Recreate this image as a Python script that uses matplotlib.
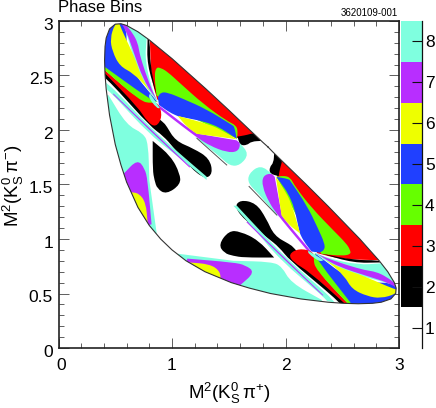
import matplotlib
matplotlib.use("Agg")
import matplotlib.pyplot as plt
from matplotlib.patches import PathPatch
from matplotlib.path import Path
from matplotlib.ticker import MultipleLocator
from matplotlib.transforms import ScaledTranslation

plt.rcParams["font.family"] = ["Liberation Sans", "DejaVu Sans"]
plt.rcParams["mathtext.fontset"] = "custom"
plt.rcParams["mathtext.rm"] = "Liberation Sans"
plt.rcParams["mathtext.it"] = "Liberation Sans:italic"

BIN_LABELS = [1, 2, 3, 4, 5, 6, 7, 8]
BIN_COLORS = ["#ffffff", "#000000", "#ff0000", "#66ff00",
              "#2040ff", "#eeff00", "#b82eff", "#7fffdf"]
X_TICKS = [0, 1, 2, 3]
Y_TICKS = [0, 0.5, 1, 1.5, 2, 2.5, 3]
Y_TICK_LABELS = ["0", "0.5", "1", "1.5", "2", "2.5", "3"]

# Only the half above the diagonal is listed, the plot is symmetric in x <-> y
OUTLINE = [(1.845, 1.845), (1.8, 1.887), (1.7, 1.985), (1.5, 2.183), (1.3, 2.376),
           (1.0, 2.655), (0.8, 2.826), (0.7, 2.901), (0.6, 2.959), (0.55, 2.975),
           (0.5, 2.971), (0.45, 2.928), (0.42, 2.844), (0.41, 2.766), (0.406, 2.64),
           (0.41, 2.51), (0.42, 2.376), (0.45, 2.135), (0.5, 1.868), (0.55, 1.68),
           (0.6, 1.522), (0.7, 1.29), (0.8, 1.124), (0.9, 1.0), (0.95, 0.95)]

# a point listed twice stays a sharp corner, the others get rounded off
BLUE_LEFT = [(0.38, 2.58), (0.38, 2.58), (0.38, 3.05), (0.60, 3.05), (0.60, 2.6),
             (0.87, 2.26), (0.87, 2.26), (0.777, 2.275)]
CYAN_TOP = [(0.54, 3.05), (0.62, 3.05), (0.80, 2.9), (0.777, 2.841), (0.777, 2.841),
            (0.762, 2.642), (0.821, 2.382), (0.879, 2.245), (0.879, 2.245), (0.70, 2.5),
            (0.60, 2.9)]
PURPLE_TOP = [(0.53, 3.02), (0.53, 3.02), (0.586, 2.975), (0.655, 2.887), (0.70, 2.795),
              (0.713, 2.703), (0.762, 2.535), (0.835, 2.336), (0.87, 2.27), (0.87, 2.27),
              (0.75, 2.45), (0.65, 2.75), (0.60, 2.90)]
YELLOW_TOP = [(0.53, 2.99), (0.53, 2.99), (0.565, 2.90), (0.62, 2.78), (0.68, 2.64),
              (0.73, 2.49), (0.806, 2.35), (0.85, 2.28), (0.85, 2.28), (0.79, 2.38),
              (0.66, 2.52), (0.54, 2.585), (0.475, 2.72), (0.455, 2.84), (0.495, 2.97)]
RED_UPPER = [(0.80, 2.86), (0.80, 2.86), (1.80, 1.96), (1.80, 1.96), (1.62, 1.92),
             (1.56, 1.93), (1.56, 1.93), (0.87, 2.28), (0.87, 2.28), (0.815, 2.48),
             (0.806, 2.80), (0.806, 2.80)]
GREEN_UPPER = [(0.862, 2.32), (0.862, 2.32), (0.845, 2.50), (0.86, 2.575), (0.90, 2.57),
               (0.96, 2.535), (1.07, 2.43), (1.28, 2.235), (1.48, 2.085), (1.57, 2.04),
               (1.58, 1.97), (1.57, 1.92), (1.57, 1.92), (1.0, 2.2)]
BLUE_RIGHT = [(0.875, 2.30), (0.875, 2.30), (0.90, 2.345), (0.96, 2.345), (1.10, 2.285),
              (1.305, 2.19), (1.53, 2.045), (1.55, 2.03), (1.57, 1.92), (1.57, 1.92),
              (1.364, 2.061), (1.056, 2.125), (1.056, 2.125), (0.98, 2.16), (0.885, 2.23),
              (0.885, 2.23)]
YELLOW_RIGHT = [(1.05, 2.13), (1.05, 2.13), (1.335, 2.05), (1.45, 1.99), (1.57, 1.915),
                (1.57, 1.915), (1.217, 1.965), (1.217, 1.965), (1.129, 2.03)]
CYAN_RIGHT = [(1.2, 1.94), (1.2, 1.94), (1.335, 1.87), (1.482, 1.82), (1.57, 1.83),
              (1.593, 1.885), (1.593, 1.885), (1.68, 1.78), (1.60, 1.675), (1.51, 1.67),
              (1.423, 1.755), (1.22, 1.923), (1.22, 1.923)]
PURPLE_RIGHT = [(0.875, 2.235), (0.875, 2.235), (1.012, 2.125), (1.129, 2.03),
                (1.217, 1.968), (1.217, 1.968), (1.57, 1.905), (1.57, 1.905), (1.605, 1.875),
                (1.58, 1.80), (1.482, 1.795), (1.335, 1.855), (1.23, 1.925), (1.23, 1.925),
                (1.10, 2.025), (0.89, 2.195), (0.89, 2.195)]
BLACK_NOTCH = [(1.576, 1.94), (1.576, 1.94), (1.60, 1.86), (1.66, 1.86), (1.70, 1.895),
               (1.79, 1.90), (1.79, 1.90), (1.73, 1.975), (1.66, 1.955), (1.61, 1.945)]
BLACK_STRIPE = [(0.785, 2.84), (0.785, 2.84), (0.806, 2.82), (0.806, 2.60), (0.865, 2.32),
                (0.865, 2.32), (0.78, 2.60)]
BLACK_BAND = [(0.38, 2.57), (0.38, 2.57), (0.41, 2.545), (0.71, 2.265), (0.806, 2.17),
              (0.924, 2.07), (0.95, 2.04), (1.03, 1.90), (1.19, 1.83), (1.33, 1.74),
              (1.36, 1.60), (1.29, 1.55), (1.16, 1.655), (1.012, 1.84), (0.924, 1.945),
              (0.806, 2.035), (0.512, 2.375), (0.41, 2.48), (0.38, 2.50), (0.38, 2.50)]
RED_BLOB = [(0.40, 2.555), (0.40, 2.555), (0.71, 2.28), (0.80, 2.27), (0.885, 2.245),
            (0.915, 2.12), (0.86, 2.025), (0.785, 2.07), (0.70, 2.21), (0.40, 2.53),
            (0.40, 2.53)]
GREEN_THIN = [(0.40, 2.585), (0.40, 2.585), (0.80, 2.285), (0.87, 2.26), (0.87, 2.26),
              (0.82, 2.245), (0.72, 2.265), (0.40, 2.555), (0.40, 2.555)]
CENTER_CYAN = [(0.806, 2.336), (0.806, 2.336), (0.894, 2.2), (0.894, 2.2), (0.865, 2.2),
               (0.791, 2.3)]
CYAN_THIN = [(0.418, 2.434), (0.418, 2.434), (0.512, 2.352), (0.806, 2.024), (1.10, 1.755),
             (1.305, 1.572), (1.305, 1.572), (1.305, 1.541), (1.305, 1.541), (1.10, 1.719),
             (0.806, 1.954), (0.483, 2.321), (0.43, 2.367), (0.43, 2.367)]
PURPLE_THIN = [(0.483, 2.336), (0.483, 2.336), (0.806, 2.012), (1.159, 1.664), (1.159, 1.664),
               (1.155, 1.655), (1.155, 1.655), (0.806, 1.995), (0.483, 2.325), (0.483, 2.325)]
CYAN_LEFT = [(0.44, 2.321), (0.44, 2.321), (0.60, 2.046), (0.747, 1.969), (0.791, 1.878),
             (0.80, 1.541), (0.80, 1.541), (0.865, 1.052), (0.865, 1.052), (0.80, 1.0),
             (0.40, 1.8), (0.38, 2.3), (0.38, 2.3)]
PURPLE_LEFT = [(0.575, 1.60), (0.575, 1.60), (0.695, 1.73), (0.76, 1.648), (0.785, 1.541),
               (0.82, 1.135), (0.82, 1.135), (0.70, 1.10), (0.50, 1.4), (0.50, 1.55)]
YELLOW_LEFT = [(0.63, 1.43), (0.63, 1.43), (0.71, 1.42), (0.77, 1.33), (0.785, 1.15),
               (0.785, 1.15), (0.70, 1.2), (0.60, 1.42)]
BLACK_BLOB = [(0.83, 1.90), (0.83, 1.90), (0.99, 1.76), (1.07, 1.60), (1.075, 1.50),
              (0.95, 1.41), (0.87, 1.46), (0.845, 1.54), (0.83, 1.633)]
GRAY_LINE = [(1.22, 1.923), (1.482, 1.679)]

# painter's order, later regions sit on top
REGIONS = [
    (5, BLUE_LEFT), (8, CYAN_TOP), (7, PURPLE_TOP), (6, YELLOW_TOP),
    (3, RED_UPPER), (4, GREEN_UPPER), (5, BLUE_RIGHT), (8, CYAN_RIGHT),
    (7, PURPLE_RIGHT), (6, YELLOW_RIGHT), (2, BLACK_NOTCH), (2, BLACK_STRIPE),
    (2, BLACK_BAND), (3, RED_BLOB), (4, GREEN_THIN), (8, CENTER_CYAN),
    (8, CYAN_THIN), (7, PURPLE_THIN), (8, CYAN_LEFT), (7, PURPLE_LEFT),
    (6, YELLOW_LEFT), (2, BLACK_BLOB),
]


def mirrored(points):
    return [(y, x) for x, y in points]


def midpoint(a, b):
    return ((a[0] + b[0]) / 2, (a[1] + b[1]) / 2)


def rounded_path(points):
    # the listed points act as control points of quadratic curves
    verts = [midpoint(points[-1], points[0])]
    codes = [Path.MOVETO]
    for i, point in enumerate(points):
        next_point = points[(i + 1) % len(points)]
        verts += [point, midpoint(point, next_point)]
        codes += [Path.CURVE3, Path.CURVE3]
    return Path(verts, codes)


def fill_region(ax, points, color, clip):
    patch = PathPatch(rounded_path(points), facecolor=color, edgecolor="none",
                      lw=0, zorder=2)
    ax.add_patch(patch)
    patch.set_clip_path(clip)


def style_frame(ax):
    ax.set_xlim(0, 3)
    ax.set_ylim(0, 3)
    ax.set_xticks(X_TICKS)
    ax.set_yticks(Y_TICKS)
    ax.set_yticklabels(Y_TICK_LABELS)
    ax.xaxis.set_minor_locator(MultipleLocator(0.2))
    ax.yaxis.set_minor_locator(MultipleLocator(0.1))
    ax.tick_params(which="major", direction="in", top=True, right=True,
                   length=7.2, width=0.6, color="#444444", labelsize=12.5)
    ax.tick_params(which="minor", direction="in", top=True, right=True,
                   length=3.6, width=0.6, color="#444444")
    ax.tick_params(axis="x", which="major", pad=7)
    ax.tick_params(axis="y", which="major", pad=4)
    for spine in ax.spines.values():
        spine.set_linewidth(1.2)
        spine.set_color("#222222")

    fig = ax.figure
    down = ScaledTranslation(0, -3 / 100, fig.dpi_scale_trans)
    for label in ax.get_yticklabels():
        label.set_transform(label.get_transform() + down)
    right = ScaledTranslation(3 / 100, 0, fig.dpi_scale_trans)
    first = ax.get_xticklabels()[0]
    first.set_transform(first.get_transform() + right)


def draw_colorbar(fig):
    cax = fig.add_axes([400.5 / 436, 60 / 408, 21 / 436, 327 / 408])
    cax.bar([0] * len(BIN_LABELS), [1] * len(BIN_LABELS), width=1,
            bottom=[b - 0.5 for b in BIN_LABELS], color=BIN_COLORS, lw=0)
    cax.set_xlim(-0.5, 0.5)
    cax.set_ylim(0.5, 8.5)
    cax.set_xticks([])
    cax.set_yticks(BIN_LABELS)
    cax.yaxis.tick_right()
    cax.tick_params(axis="y", direction="in", length=7.2, width=0.8, pad=2.5,
                    labelsize=12.5, color="#111111")
    for side in ("left", "top", "bottom"):
        cax.spines[side].set_visible(False)
    cax.spines["right"].set_linewidth(0.9)
    cax.spines["right"].set_color("#111111")


def main():
    fig = plt.figure(figsize=(4.36, 4.08), dpi=100)
    ax = fig.add_axes([58.5 / 436, 60 / 408, 340.5 / 436, 327 / 408])

    outline = OUTLINE + mirrored(OUTLINE)[::-1]
    xs, ys = zip(*outline)
    base = ax.fill(xs, ys, color="white", lw=0, zorder=1)[0]

    for bin_no, points in REGIONS:
        color = BIN_COLORS[bin_no - 1]
        fill_region(ax, points, color, base)
        fill_region(ax, mirrored(points), color, base)

    for line in (GRAY_LINE, mirrored(GRAY_LINE)):
        lx, ly = zip(*line)
        ax.plot(lx, ly, color="#555555", lw=0.7, zorder=3)

    ax.plot(list(xs) + [xs[0]], list(ys) + [ys[0]], color="#333333", lw=0.8, zorder=4)

    style_frame(ax)
    draw_colorbar(fig)

    label_x = r"$\mathregular{M^{2}(K^{0}_{S}\,\pi^{+})}$"
    label_y = r"$\mathregular{M^{2}(K^{0}_{S}\,\pi^{-})}$"
    fig.text(229 / 436, 1 - 393 / 408, label_x, ha="center", va="center", fontsize=13.5)
    fig.text(13 / 436, 1 - 186 / 408, label_y, ha="center", va="center",
             rotation=90, fontsize=13.5)
    fig.text(58 / 436, 1 - 8 / 408, "Phase Bins", ha="left", va="center", fontsize=12)
    fig.text(398 / 436, 1 - 13 / 408, "3620109-001", ha="right", va="center", fontsize=7)

    fig.savefig("out.png", dpi=100)


if __name__ == "__main__":
    main()
